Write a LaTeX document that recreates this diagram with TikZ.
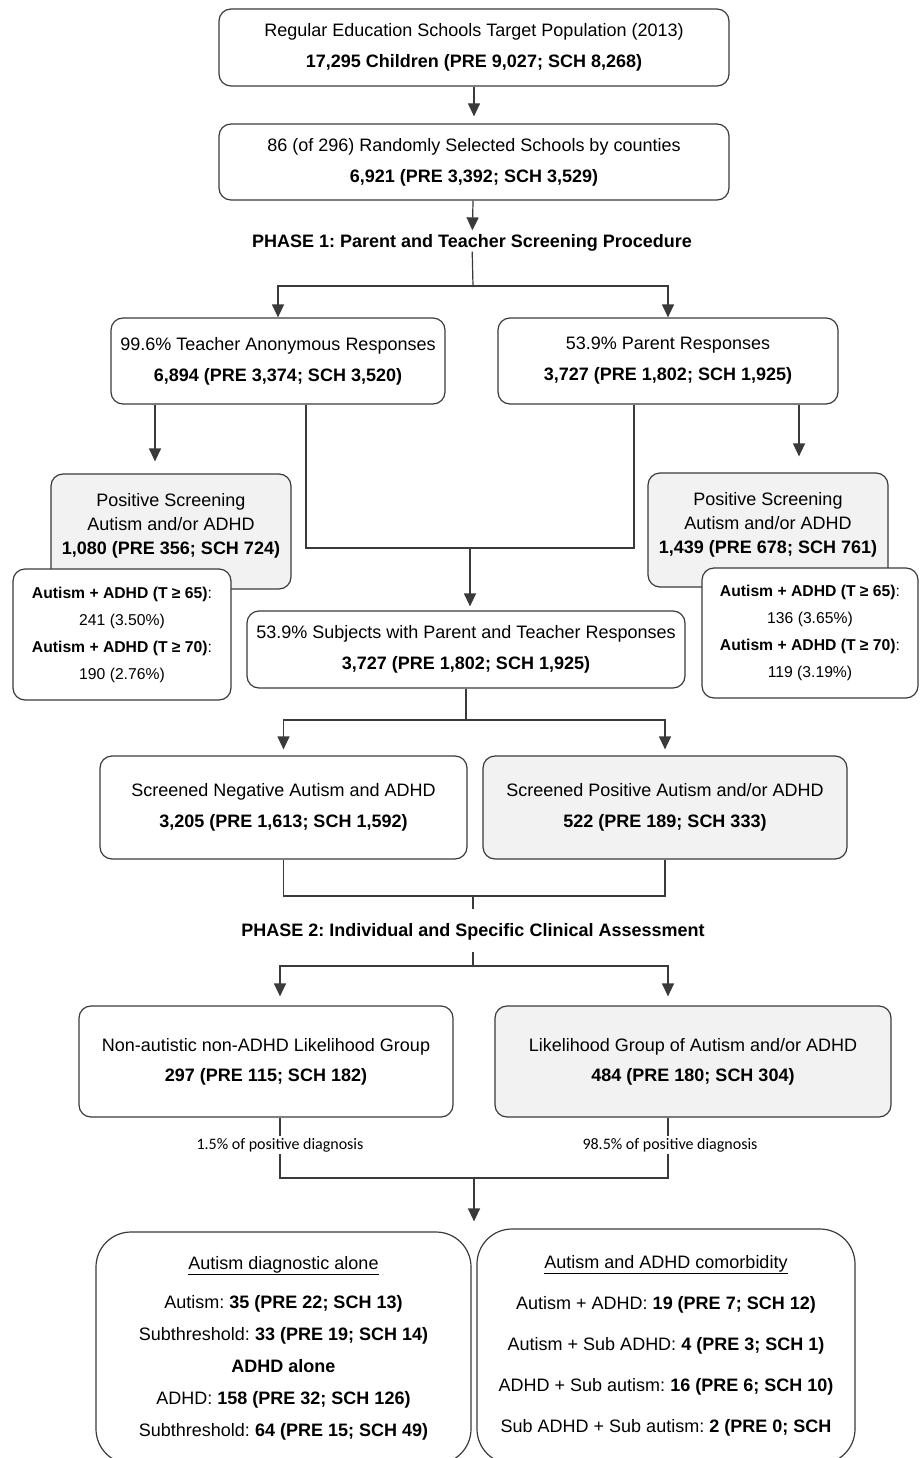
\documentclass[tikz,border=0pt]{standalone}
\usepackage{fontspec}
\setmainfont{Liberation Sans}
\newfontfamily\pctfont{Carlito}
\usetikzlibrary{arrows.meta}
\frenchspacing
\definecolor{linegray}{HTML}{3A3A3A}
\definecolor{boxfill}{HTML}{F2F2F2}
\tikzset{every node/.style={inner sep=0pt},
    box/.style={draw=linegray, line width=1.2pt, rounded corners=12pt, align=center,
        font=\fontsize{18}{31}\selectfont},
    greybox/.style={box, fill=boxfill},
    bigbox/.style={box, rounded corners=35pt},
    phase/.style={font=\fontsize{18}{22}\selectfont\bfseries},
    pct/.style={fill=white, inner sep=2pt, font=\pctfont\fontsize{16}{19}\selectfont},
    conn/.style={draw=linegray, line width=1.2pt},
    arr/.style={conn, -{Triangle[length=13pt,width=12pt]}},
    }

\begin{document}
\begin{tikzpicture}[x=1pt, y=-1pt]
\useasboundingbox (0,0) rectangle (921,1458);
% sampling
\node[box, minimum width=510pt, minimum height=77pt] (target) at (474,47.5)
    {Regular Education Schools Target Population (2013)\\\textbf{17,295 Children (PRE 9,027; SCH 8,268)}};
\node[box, minimum width=510pt, minimum height=76pt] (schools) at (474,162)
    {86 (of 296) Randomly Selected Schools by counties\\\textbf{6,921 (PRE 3,392; SCH 3,529)}};
\node[phase] (phase1) at (472,243) {PHASE 1: Parent and Teacher Screening Procedure};
% phase 1
\node[box, minimum width=334pt, minimum height=86pt] (teacher) at (278,361)
    {99.6\% Teacher Anonymous Responses\\\textbf{6,894 (PRE 3,374; SCH 3,520)}};
\node[box, minimum width=340pt, minimum height=86pt] (parent) at (668,361)
    {53.9\% Parent Responses\\\textbf{3,727 (PRE 1,802; SCH 1,925)}};
\node[greybox, font=\fontsize{18}{24}\selectfont, text depth=15pt,
    minimum width=240pt, minimum height=115pt] (posT) at (171,531.5)
    {Positive Screening\\Autism and/or ADHD\\\textbf{1,080 (PRE 356; SCH 724)}};
\node[greybox, font=\fontsize{18}{24}\selectfont, text depth=15pt,
    minimum width=240pt, minimum height=114pt] (posP) at (768,530)
    {Positive Screening\\Autism and/or ADHD\\\textbf{1,439 (PRE 678; SCH 761)}};
\node[box, fill=white, font=\fontsize{15.7}{27}\selectfont,
    minimum width=218pt, minimum height=131pt] (cutT) at (122,634.5)
    {\textbf{Autism + ADHD (T ≥ 65)}:\\241 (3.50\%)\\\textbf{Autism + ADHD (T ≥ 70)}:\\190 (2.76\%)};
\node[box, fill=white, font=\fontsize{15.7}{27}\selectfont,
    minimum width=216pt, minimum height=130pt] (cutP) at (810,633)
    {\textbf{Autism + ADHD (T ≥ 65)}:\\136 (3.65\%)\\\textbf{Autism + ADHD (T ≥ 70)}:\\119 (3.19\%)};
\node[box, minimum width=438pt, minimum height=77pt] (both) at (466,649.5)
    {53.9\% Subjects with Parent and Teacher Responses\\\textbf{3,727 (PRE 1,802; SCH 1,925)}};
\node[box, minimum width=367pt, minimum height=103pt] (neg) at (283.5,807.5)
    {Screened Negative Autism and ADHD\\\textbf{3,205 (PRE 1,613; SCH 1,592)}};
\node[greybox, minimum width=364pt, minimum height=103pt] (pos) at (665,807.5)
    {Screened Positive Autism and/or ADHD\\\textbf{522 (PRE 189; SCH 333)}};
\node[phase] (phase2) at (473,932) {PHASE 2: Individual and Specific Clinical Assessment};
% phase 2
\node[box, font=\fontsize{18}{30}\selectfont, minimum width=374pt, minimum height=111pt] (nonlik) at (266,1061.5)
    {Non-autistic non-ADHD Likelihood Group\\\textbf{297 (PRE 115; SCH 182)}};
\node[greybox, font=\fontsize{18}{30}\selectfont, minimum width=396pt, minimum height=111pt] (lik) at (693,1061.5)
    {Likelihood Group of Autism and/or ADHD\\\textbf{484 (PRE 180; SCH 304)}};
\node[bigbox, minimum width=375pt, minimum height=232pt] (diagA) at (283.5,1348) {};
\node[bigbox, minimum width=378pt, minimum height=235pt] (diagB) at (666,1346.5) {};
\node[anchor=north, align=center, font=\fontsize{18}{32}\selectfont] (diagAtxt) at (283.5,1256)
    {\underline{Autism diagnostic alone}\\[7pt]
    Autism: \textbf{35 (PRE 22; SCH 13)}\\
    Subthreshold: \textbf{33 (PRE 19; SCH 14)}\\
    \textbf{ADHD alone}\\
    ADHD: \textbf{158 (PRE 32; SCH 126)}\\
    Subthreshold: \textbf{64 (PRE 15; SCH 49)}};
\node[anchor=north, align=center, font=\fontsize{18}{41}\selectfont] (diagBtxt) at (666,1255)
    {\underline{Autism and ADHD comorbidity}\\
    Autism + ADHD: \textbf{19 (PRE 7; SCH 12)}\\
    Autism + Sub ADHD: \textbf{4 (PRE 3; SCH 1)}\\
    ADHD + Sub autism: \textbf{16 (PRE 6; SCH 10)}\\
    Sub ADHD + Sub autism: \textbf{2 (PRE 0; SCH}};
% connectors
\coordinate (split1) at (473,286);
\coordinate (join1) at (470,548);
\coordinate (split2) at (466,720);
\coordinate (join2) at (473,896);
\coordinate (split3) at (473,966);
\coordinate (join3) at (474,1178);
\coordinate (colA) at (280,0);
\coordinate (colB) at (668,0);
\draw[arr, shorten >=7pt] (target) -- (schools);
\draw[arr, shorten >=4pt] (schools) -- (phase1);
\draw[conn] (phase1) -- (split1);
\draw[arr] (split1) -| (teacher);
\draw[arr] (split1) -| (parent);
\draw[arr, shorten >=12pt] (155,0 |- teacher.south) -- (155,0 |- posT.north);
\draw[arr, shorten >=16pt] (799,0 |- parent.south) -- (799,0 |- posP.north);
\draw[conn] (306,0 |- teacher.south) |- (join1) -| (634,0 |- parent.south);
\draw[arr, shorten >=4pt] (join1) -- (join1 |- both.north);
\draw[conn] (both) -- (split2);
\draw[arr, shorten >=6pt] (split2) -| (neg);
\draw[arr, shorten >=6pt] (split2) -| (pos);
\draw[conn] (neg) |- (join2) -| (pos);
\draw[conn] (join2) -- ++(0,13);
\draw[conn, shorten <=11pt] (phase2) -- (split3);
\draw[arr, shorten >=9pt] (split3) -| (colA |- nonlik.north);
\draw[arr, shorten >=9pt] (split3) -| (colB |- lik.north);
\draw[conn] (colA |- nonlik.south) |- (join3) -| (colB |- lik.south);
\draw[arr, shorten >=10pt] (join3) -- (join3 |- diagA.north);
\node[pct] (pctA) at (280,1145) {1.5\% of positive diagnosis};
\node[pct] (pctB) at (670,1145) {98.5\% of positive diagnosis};
\end{tikzpicture}
\end{document}
